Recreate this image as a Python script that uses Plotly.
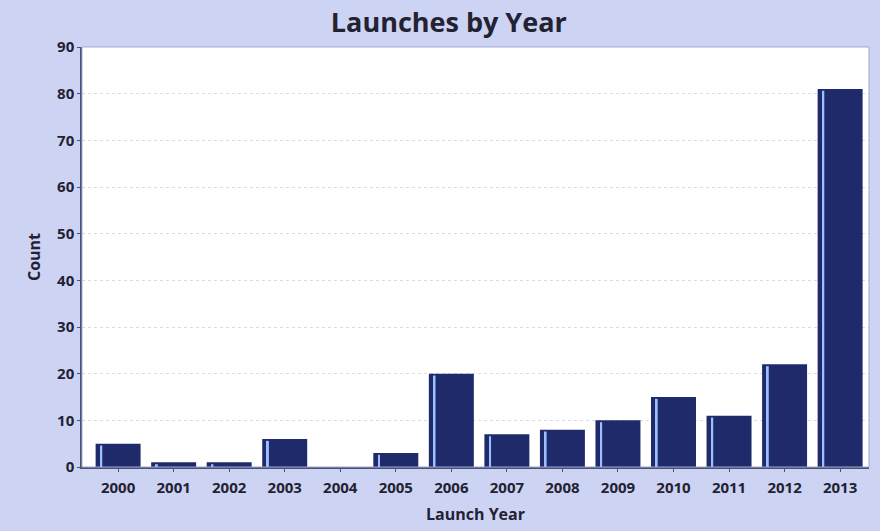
import plotly.graph_objects as go

years = ["2000", "2001", "2002", "2003", "2004", "2005", "2006",
         "2007", "2008", "2009", "2010", "2011", "2012", "2013"]
counts = [5, 1, 1, 6, 0, 3, 20, 7, 8, 10, 15, 11, 22, 81]
y_ticks = [0, 10, 20, 30, 40, 50, 60, 70, 80, 90]

bar_color = "#1f2a6a"
shine_color = "#9cc0ff"
panel_bg = "#cdd3f2"
font_main = "Open Sans"
axis_color = "#4a5178"

fig = go.Figure()

# main bars
fig.add_trace(go.Bar(
    x=years, y=counts,
    width=0.81, offset=-0.405,
    marker=dict(color=bar_color, line=dict(width=0)),
    hoverinfo="x+y",
))
# thin highlight stripe near the left edge of each bar
fig.add_trace(go.Bar(
    x=years, y=[max(c - 0.4, 0) for c in counts],
    width=0.035, offset=-0.32,
    marker=dict(color=shine_color, line=dict(width=0)),
    hoverinfo="skip",
))

fig.update_layout(
    width=880, height=531,
    margin=dict(l=82, r=11, t=47, b=64),
    paper_bgcolor=panel_bg,
    plot_bgcolor="white",
    barmode="overlay",
    showlegend=False,
    title=dict(
        text="<b>Launches by Year</b>",
        x=0.51, xanchor="center", y=0.957, yanchor="middle",
        font=dict(family=font_main, size=27, color="#222233"),
    ),
    font=dict(family=font_main, color="#222233"),
)

fig.update_xaxes(
    type="category",
    range=[-0.65, 13.52],
    title=dict(text="<b>Launch Year</b>", font=dict(size=16, family=font_main), standoff=13),
    tickfont=dict(size=15, family=font_main, weight="bold"),
    ticklabelstandoff=3,
    showline=True, linecolor=axis_color, linewidth=1.5,
    ticks="outside", ticklen=3, tickcolor=axis_color,
    showgrid=False,
)

fig.update_yaxes(
    range=[0, 90],
    tickvals=y_ticks,
    title=dict(text="<b>Count</b>", font=dict(size=16, family=font_main), standoff=12),
    tickfont=dict(size=15, family=font_main, weight="bold"),
    showline=True, linecolor=axis_color, linewidth=1.5,
    ticks="outside", ticklen=3, tickcolor=axis_color,
    showgrid=True, gridcolor="#dcdcdc", griddash="dot", gridwidth=1,
    zeroline=False,
)

# faint frame along top and right of the plotting area
fig.add_shape(type="rect", xref="paper", yref="paper", x0=0, y0=0, x1=1, y1=1,
              line=dict(color="#a3a9d0", width=1), layer="above")

fig.write_html("out.html")
